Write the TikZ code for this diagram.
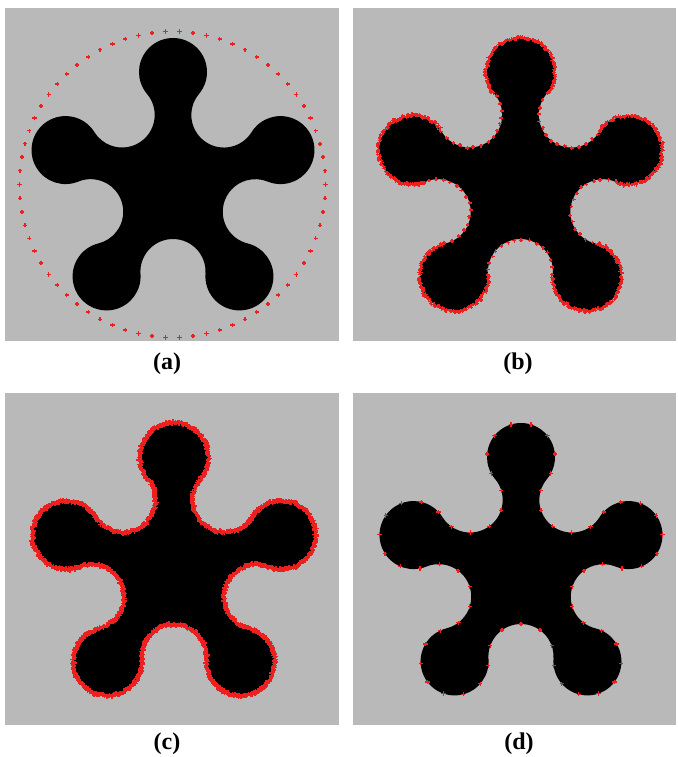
\documentclass[tikz,border=0pt]{standalone}
\usepackage{fontspec}
\setmainfont{Liberation Serif}
\definecolor{panelgray}{RGB}{185,185,185}
\definecolor{mkred}{RGB}{236,32,30}
% closed outline of the five-lobed shape, centred at the origin
\newcommand\starpath{([shift={(90:113)}]-40.155:34)
  \foreach \t in {90,162,234,306,378}{
    arc[start angle=\t-130.155, end angle=\t+130.155, radius=34pt]
    arc[start angle=\t-49.845, end angle=\t-238.155, radius=32.595pt]
  } -- cycle}
\newcommand\plusat[2]{\draw[mkline] (#1) ++(-#2,0) -- ++(2*#2,0) (#1) ++(0,-#2) -- ++(0,2*#2);}
\tikzset{
  panel/.style={fill=panelgray},
  shapefill/.style={fill=black},
  mkline/.style={draw=mkred, line width=1.4pt},
  mkthick/.style={mkline/.style={draw=mkred, line width=1.7pt}},
  mkthin/.style={mkline/.style={draw=mkred, line width=1.3pt}},
  lab/.style={font=\bfseries\fontsize{24}{28}\selectfont, inner sep=0pt}
}
\begin{document}
\begin{tikzpicture}[x=1pt,y=1pt]
\pgfmathsetseed{7}
\useasboundingbox (0,0) rectangle (677,-757);
\fill[white] (0,0) rectangle (677,-757);
% panels
\fill[panel] (5,-8) rectangle (339,-341);
\fill[panel] (353,-8) rectangle (676,-341);
\fill[panel] (5,-393) rectangle (339,-725);
\fill[panel] (353,-393) rectangle (676,-725);
% ---------------- (a)
\begin{scope}[shift={(173,-185)}]
  \fill[shapefill] \starpath;
\end{scope}
\begin{scope}[shift={(172.5,-184.5)}]
  \foreach \kk [evaluate=\kk as \ang using \kk*(360/70)] in {0,...,69}{
    \plusat{\ang:153}{2.2}
  }
\end{scope}
% ---------------- (b)
\begin{scope}[shift={(520.5,-185)}]
  \fill[shapefill] \starpath;
  \foreach \t in {90,162,234,306,378}{
    \foreach \s in {-128,-125,...,128}{
      \pgfmathsetmacro\rr{34+0.6+1.3*rand}
      \pgfmathsetmacro\aa{\t+\s+1.5*rand}
      \plusat{[shift={(\t:113)}]\aa:\rr}{1.9}
    }
    \foreach \s in {6,19,...,185}{
      \pgfmathsetmacro\rr{32.595-0.4+0.9*rand}
      \pgfmathsetmacro\aa{\t-49.845-\s+2*rand}
      \plusat{[shift={(\t+36:86.595)}]\aa:\rr}{1.9}
    }
  }
\end{scope}
% ---------------- (c)
\begin{scope}[shift={(174,-570)}, mkthick]
  \fill[shapefill] \starpath;
  \foreach \t in {90,162,234,306,378}{
    \foreach \s in {-130,-128,...,130}{
      \pgfmathsetmacro\rr{34+0.3+1.2*rand}
      \pgfmathsetmacro\aa{\t+\s+1.2*rand}
      \plusat{[shift={(\t:113)}]\aa:\rr}{2.3}
    }
    \foreach \s in {0,2.5,...,188}{
      \pgfmathsetmacro\rr{32.595-0.3+1.2*rand}
      \pgfmathsetmacro\aa{\t-49.845-\s+1.2*rand}
      \plusat{[shift={(\t+36:86.595)}]\aa:\rr}{2.3}
    }
  }
\end{scope}
% ---------------- (d)
\begin{scope}[shift={(521,-570)}, mkthin]
  \fill[shapefill] \starpath;
  \foreach \t in {90,162,234,306,378}{
    \foreach \s in {-119,-85,-51,-17,17,51,85,119}{
      \plusat{[shift={(\t:113)}]\t+\s:34}{2.1}
    }
    \foreach \s in {23.5,58.8,94.2,129.5,164.8}{
      \plusat{[shift={(\t+36:86.595)}]\t-49.845-\s:32.595}{2.1}
    }
  }
\end{scope}
% labels
\node[lab] (la) at (167,-364) {(a)};
\node[lab] (lb) at (518,-364) {(b)};
\node[lab] (lc) at (167,-744) {(c)};
\node[lab] (ld) at (519,-744) {(d)};
\end{tikzpicture}
\end{document}
